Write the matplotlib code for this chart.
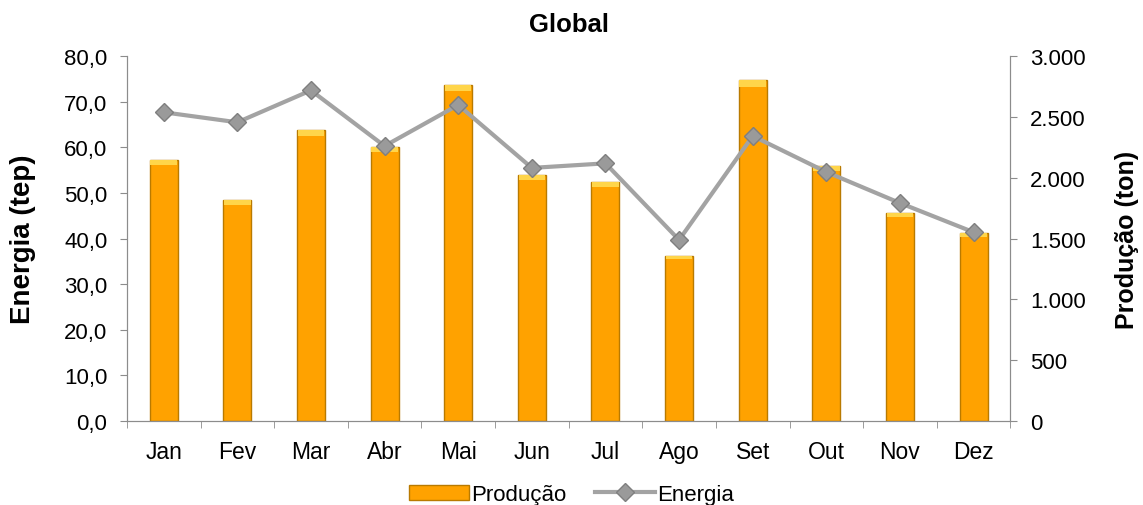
import matplotlib.pyplot as plt
import numpy as np
from matplotlib.ticker import FuncFormatter, FixedLocator

plt.rcParams['font.family'] = ['Liberation Sans', 'DejaVu Sans']

# dados
meses = ["Jan", "Fev", "Mar", "Abr", "Mai", "Jun", "Jul", "Ago", "Set", "Out", "Nov", "Dez"]
producao = [2145, 1816, 2391, 2253, 2765, 2021, 1964, 1356, 2802, 2095, 1709, 1545]
energia = [67.7, 65.5, 72.5, 60.3, 69.3, 55.5, 56.5, 39.7, 62.5, 54.6, 47.8, 41.4]

x = np.arange(len(meses))

fig = plt.figure(figsize=(11.43, 5.06), dpi=100)
ax1 = fig.add_axes([0.111, 0.166, 0.773, 0.721])
ax2 = ax1.twinx()

# barras de produção (eixo da direita)
ax2.bar(x, producao, width=0.38, color="#FFA200", edgecolor="#B97A00", linewidth=1.0,
        label="Produção", zorder=2)
ax2.bar(x, [p * 0.02 for p in producao], bottom=[p * 0.98 for p in producao], width=0.36,
        color="#FFD54A", edgecolor="none", zorder=3)
ax2.set_ylim(0, 3000)
ax2.set_yticks(range(0, 3001, 500))
ax2.yaxis.set_major_formatter(FuncFormatter(lambda v, p: f"{int(v):,}".replace(",", ".")))

# linha de energia (eixo da esquerda)
ax1.set_zorder(ax2.get_zorder() + 1)
ax1.patch.set_visible(False)
ax1.plot(x, energia, color="#A3A3A3", linewidth=3, marker="D", markersize=9,
         markerfacecolor="#9A9A9A", markeredgecolor="#7F7F7F", label="Energia", zorder=4)
ax1.set_ylim(0, 80)
ax1.set_yticks(range(0, 81, 10))
ax1.yaxis.set_major_formatter(FuncFormatter(lambda v, p: f"{v:.1f}".replace(".", ",")))
ax1.set_xlim(-0.5, len(meses) - 0.5)
ax1.set_xticks(x)
ax1.set_xticklabels(meses)
ax1.xaxis.set_minor_locator(FixedLocator(np.arange(-0.5, len(meses), 1.0)))

for ax in (ax1, ax2):
    ax.spines["top"].set_visible(False)
    for s in ("left", "right", "bottom"):
        ax.spines[s].set_color("#8C8C8C")
    ax.tick_params(axis="y", colors="#8C8C8C", labelcolor="black", labelsize=16, length=5, pad=9)
ax1.tick_params(axis="x", which="major", length=0, labelsize=16.5, pad=14)
ax1.tick_params(axis="x", which="minor", length=5, color="#8C8C8C")

ax1.set_ylabel("Energia (tep)", fontsize=20, fontweight="bold", labelpad=20)
ax2.set_ylabel("Produção (ton)", fontsize=18, fontweight="bold", labelpad=21)
ax1.set_title("Global", fontsize=18.5, fontweight="bold", pad=18)

h2, l2 = ax2.get_legend_handles_labels()
h1, l1 = ax1.get_legend_handles_labels()
fig.legend(h2 + h1, l2 + l1, loc="lower center", bbox_to_anchor=(0.5, -0.04), ncol=2,
           frameon=False, fontsize=16, handlelength=2.7, handletextpad=0.1, columnspacing=1.3)

plt.savefig("out.png", dpi=100)
